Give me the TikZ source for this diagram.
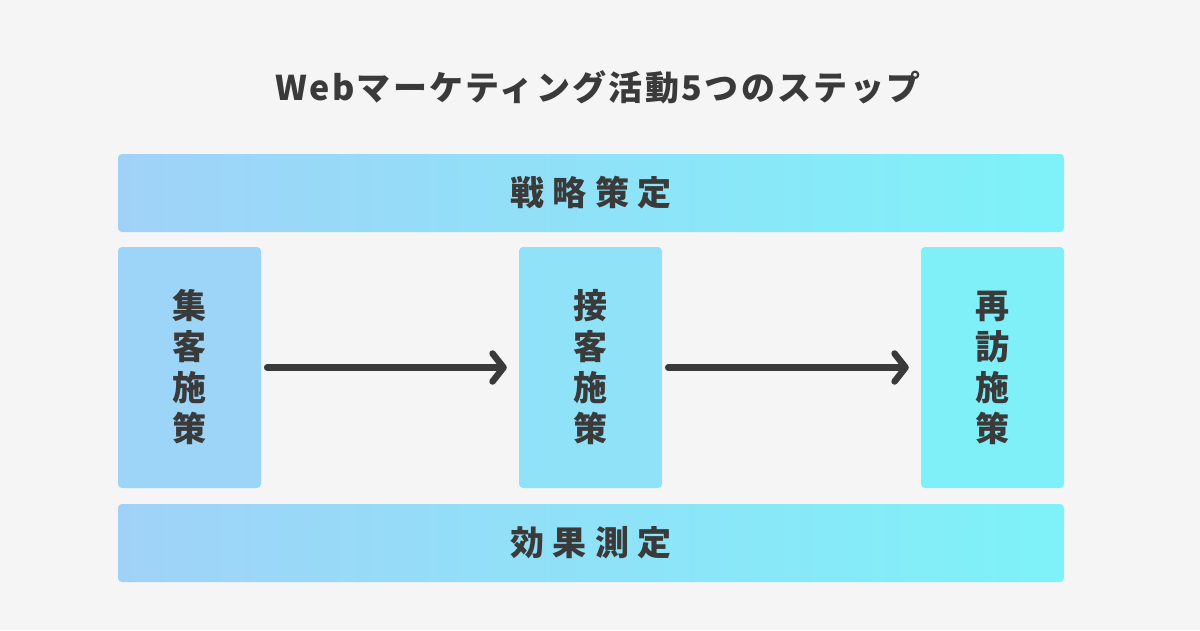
\documentclass[tikz,border=0pt]{standalone}
\usepackage{fontspec}
\setmainfont{Noto Sans CJK JP}
\newfontfamily\titlefont[LetterSpace=7]{Noto Sans CJK JP}
\newfontfamily\barfont[LetterSpace=25]{Noto Sans CJK JP}
\usetikzlibrary{positioning, arrows.meta}

\definecolor{bgcol}{HTML}{F5F5F5}
\definecolor{leftcol}{HTML}{A0D2F8}
\definecolor{rightcol}{HTML}{7EF2F8}
\definecolor{inkcol}{HTML}{3A3A3A}
\colorlet{midcolA}{leftcol!92!rightcol}
\colorlet{midcolB}{leftcol!50!rightcol}
\colorlet{midcolC}{leftcol!7!rightcol}

\begin{document}
\begin{tikzpicture}[x=1pt,y=-1pt,
    bar node/.style={rounded corners=4pt,minimum width=946pt,minimum height=78pt,
      left color=leftcol,right color=rightcol,text=inkcol,
      font=\barfont\bfseries\fontsize{34pt}{34pt}\selectfont},
    step node/.style={rounded corners=4pt,minimum width=143pt,minimum height=241pt,
      text=inkcol,align=center,
      font=\bfseries\fontsize{34pt}{41pt}\selectfont},
    flow/.style={line width=6.5pt,line cap=round,draw=inkcol,
      -{Straight Barb[length=11pt,width=28pt,line width=6.5pt,round]}}]

\fill[bgcol] (0,0) rectangle (1200,630);
\useasboundingbox (0,0) rectangle (1200,630);

\node[text=inkcol,font=\titlefont\bfseries\fontsize{34pt}{34pt}\selectfont] (title) at (598,87) {Webマーケティング活動5つのステップ};

\node[bar node] (strategy) at (591,193) {戦略策定};
\node[bar node] (measure)  at (591,543) {効果測定};

\node[step node,fill=midcolA] (attract) at (189.5,367.5) {集\\客\\施\\策};
\node[step node,fill=midcolB] (serve)   at (590.5,367.5) {接\\客\\施\\策};
\node[step node,fill=midcolC] (revisit) at (992.5,367.5) {再\\訪\\施\\策};

\draw[flow] ([xshift=6pt]attract.east) -- ([xshift=-12pt]serve.west);
\draw[flow] ([xshift=6pt]serve.east) -- ([xshift=-12pt]revisit.west);

\end{tikzpicture}
\end{document}
